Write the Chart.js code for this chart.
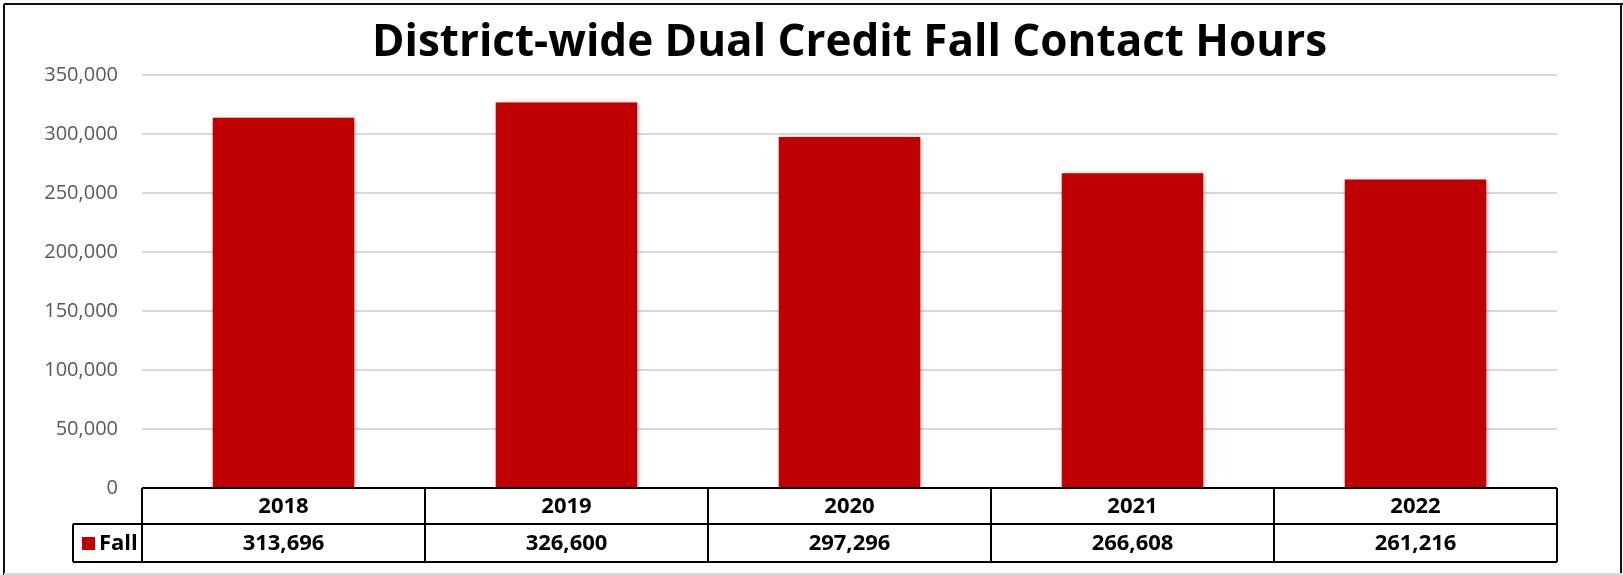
<!DOCTYPE html>
<html lang="en">
<head>
    <meta charset="UTF-8" />
    <title>District-wide Dual Credit Fall Contact Hours</title>
    <script src="https://cdn.jsdelivr.net/npm/chart.js"></script>
    <style>
        html, body { margin: 0; padding: 0; background: #fff; }
        .wrap { width: 1623px; height: 575px; position: relative; }
    </style>
</head>
<body>
<div class="wrap"><canvas id="chart"></canvas></div>
<script>
    const years = ['2018', '2019', '2020', '2021', '2022'];
    const fallHours = [313696, 326600, 297296, 266608, 261216];
    const seriesName = 'Fall';
    const yTicks = [0, 50000, 100000, 150000, 200000, 250000, 300000, 350000];

    const barRed = '#C00000';
    const fmt = v => v.toLocaleString('en-US');

    // bar shadow like the office chart
    const shadowPlugin = {
        id: 'barShadow',
        beforeDatasetsDraw(chart) {
            const ctx = chart.ctx;
            ctx.save();
            ctx.shadowColor = 'rgba(0,0,0,0.35)';
            ctx.shadowBlur = 5;
            ctx.shadowOffsetX = 1;
            ctx.shadowOffsetY = 1;
        },
        afterDatasetsDraw(chart) {
            chart.ctx.restore();
        }
    };

    // data table under the plot + outer frame
    const tablePlugin = {
        id: 'dataTable',
        afterDraw(chart) {
            const ctx = chart.ctx;
            const x = chart.scales.x;
            const area = chart.chartArea;
            const top = area.bottom;
            const mid = top + 36;
            const bot = mid + 38;
            const legendLeft = 73;

            ctx.save();
            ctx.strokeStyle = '#000';
            ctx.lineWidth = 2;
            ctx.beginPath();
            ctx.moveTo(area.left, top); ctx.lineTo(area.right, top);
            ctx.moveTo(legendLeft, mid); ctx.lineTo(area.right, mid);
            ctx.moveTo(legendLeft, bot); ctx.lineTo(area.right, bot);
            ctx.moveTo(legendLeft, mid); ctx.lineTo(legendLeft, bot);
            const colW = (area.right - area.left) / years.length;
            for (let i = 0; i <= years.length; i++) {
                const cx = area.left + i * colW;
                ctx.moveTo(cx, top); ctx.lineTo(cx, bot);
            }
            ctx.stroke();

            ctx.fillStyle = '#000';
            ctx.font = 'bold 22px "Open Sans"';
            ctx.textAlign = 'center';
            ctx.textBaseline = 'middle';
            years.forEach((y, i) => {
                const cx = x.getPixelForValue(i);
                ctx.fillText(y, cx, (top + mid) / 2 + 1);
                ctx.fillText(fmt(fallHours[i]), cx, (mid + bot) / 2 + 1);
            });

            // legend key
            ctx.fillStyle = barRed;
            ctx.fillRect(82, mid + 13, 13, 13);
            ctx.fillStyle = '#000';
            ctx.textAlign = 'left';
            ctx.fillText(seriesName, 99, (mid + bot) / 2 + 1);

            // outer frame
            ctx.lineWidth = 2;
            ctx.strokeStyle = '#111';
            ctx.beginPath();
            ctx.moveTo(4, 4); ctx.lineTo(1623, 4);
            ctx.moveTo(4, 4); ctx.lineTo(4, 575);
            ctx.moveTo(1621, 4); ctx.lineTo(1621, 575);
            ctx.stroke();
            ctx.strokeStyle = '#d9d9d9';
            ctx.beginPath();
            ctx.moveTo(4, 574); ctx.lineTo(1623, 574);
            ctx.stroke();
            ctx.restore();
        }
    };

    new Chart(document.getElementById('chart'), {
        type: 'bar',
        data: {
            labels: years,
            datasets: [{
                label: seriesName,
                data: fallHours,
                backgroundColor: barRed,
                categoryPercentage: 1,
                barPercentage: 0.5
            }]
        },
        options: {
            responsive: true,
            maintainAspectRatio: false,
            animation: false,
            layout: { padding: { left: 0, right: 66, top: 0, bottom: 87 } },
            plugins: {
                legend: { display: false },
                tooltip: { enabled: false },
                title: {
                    display: true,
                    text: 'District-wide Dual Credit Fall Contact Hours',
                    color: '#000',
                    fullSize: false,
                    font: { family: '"Open Sans"', size: 44, weight: 'bold', lineHeight: 1.2 },
                    padding: { top: 17, bottom: 5 }
                }
            },
            scales: {
                x: {
                    display: false
                },
                y: {
                    min: 0,
                    max: 350000,
                    afterFit(s) { s.width = 142; },
                    afterBuildTicks(s) { s.ticks = yTicks.map(v => ({ value: v })); },
                    grid: { color: '#D9D9D9', lineWidth: 2, drawTicks: false },
                    border: { display: false },
                    ticks: {
                        padding: 24,
                        color: '#595959',
                        font: { family: '"Open Sans"', size: 20 },
                        callback: v => fmt(v)
                    }
                }
            }
        },
        plugins: [shadowPlugin, tablePlugin]
    });
</script>
</body>
</html>
